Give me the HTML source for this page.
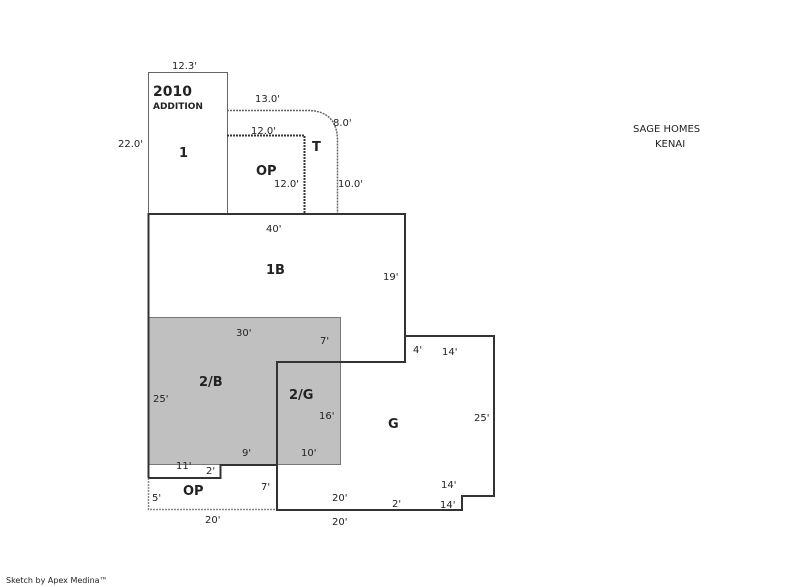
<!DOCTYPE html>
<html><head><meta charset="utf-8"><style>
html,body{margin:0;padding:0;background:#fff;}
svg{display:block;}
text{font-family:"DejaVu Sans","Liberation Sans",sans-serif;font-size:10px;fill:#222;}
.b{font-size:13px;font-weight:bold;}
</style></head><body>
<svg width="800" height="587" viewBox="0 0 800 587">
<rect x="148.5" y="317.5" width="192" height="147" fill="#c0c0c0" stroke="#777" stroke-width="1"/>
<!-- addition -->
<path d="M148.5 214 V72.5 H227.5 V214" fill="none" stroke="#666" stroke-width="1"/>
<!-- porch dotted -->
<path d="M227 110.5 H310 Q337 112 337.5 140 V214" fill="none" stroke="#666" stroke-width="1.5" stroke-dasharray="2,1"/>
<path d="M227 135.5 H304.5 V214" fill="none" stroke="#333" stroke-width="2" stroke-dasharray="2,1"/>
<!-- OP dotted bottom -->
<path d="M148.5 478 V509.5 H277" fill="none" stroke="#888" stroke-width="1.5" stroke-dasharray="2,1"/>
<!-- main outline -->
<path d="M148.5 478 V214 H405 V362 H277 V510 H462 V496 H494 V336 H405" fill="none" stroke="#333" stroke-width="2"/>
<path d="M148.5 478 H220.5 V465 H277" fill="none" stroke="#333" stroke-width="2"/>
<text x="172" y="69">12.3'</text>
<text class="b" x="153" y="96" style="font-size:14px">2010</text>
<text x="153" y="109" style="font-size:9px;font-weight:bold">ADDITION</text>
<text x="118" y="147">22.0'</text>
<text class="b" x="179" y="157">1</text>
<text x="255" y="102">13.0'</text>
<text x="333" y="126">8.0'</text>
<text x="251" y="134">12.0'</text>
<text class="b" x="312" y="151">T</text>
<text class="b" x="256" y="175">OP</text>
<text x="274" y="187">12.0'</text>
<text x="338" y="187">10.0'</text>
<text x="266" y="232">40'</text>
<text class="b" x="266" y="274">1B</text>
<text x="383" y="280">19'</text>
<text x="236" y="336">30'</text>
<text x="320" y="344">7'</text>
<text x="413" y="353">4'</text>
<text x="442" y="355">14'</text>
<text class="b" x="199" y="386">2/B</text>
<text class="b" x="289" y="399">2/G</text>
<text x="153" y="402">25'</text>
<text x="319" y="419">16'</text>
<text class="b" x="388" y="428">G</text>
<text x="474" y="421">25'</text>
<text x="242" y="456">9'</text>
<text x="301" y="456">10'</text>
<text x="176" y="469">11'</text>
<text x="206" y="474">2'</text>
<text x="441" y="488">14'</text>
<text x="261" y="490">7'</text>
<text class="b" x="183" y="495">OP</text>
<text x="152" y="501">5'</text>
<text x="332" y="501">20'</text>
<text x="392" y="507">2'</text>
<text x="440" y="508">14'</text>
<text x="205" y="523">20'</text>
<text x="332" y="525">20'</text>
<text x="633" y="132">SAGE HOMES</text>
<text x="655" y="147">KENAI</text>
<text x="6" y="583" style="font-size:8px">Sketch by Apex Medina™</text>
</svg>
</body></html>
